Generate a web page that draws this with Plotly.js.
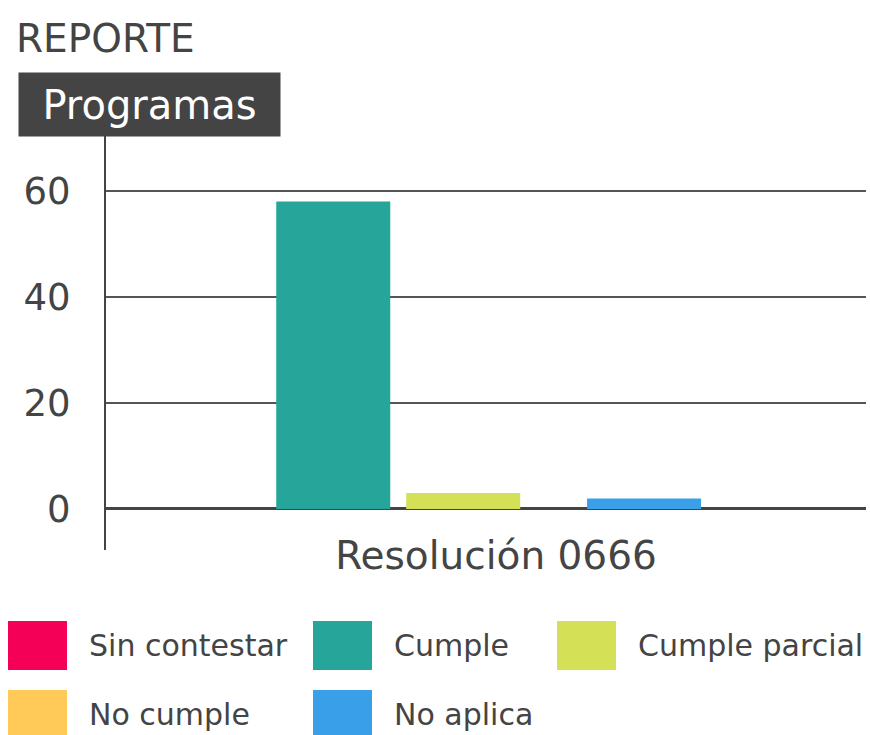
<!DOCTYPE html>
<html>
<head>
<meta charset="utf-8">
<script src="https://cdn.plot.ly/plotly-3.0.1.min.js"></script>
<style>html,body{margin:0;padding:0;background:#fff;}#chart{width:870px;height:735px;}</style>
</head>
<body>
<div id="chart"></div>
<script>
// ---- data ----
var categories = ["Resolución 0666"];
var seriesNames = ["Sin contestar", "Cumple", "Cumple parcial", "No cumple", "No aplica"];
var sinContestar = [0];
var cumple = [58];
var cumpleParcial = [3];
var noCumple = [0];
var noAplica = [2];
var yTickValues = [0, 20, 40, 60];
var titleText = "REPORTE";
var yTitleText = "Programas";

// ---- styles ----
var seriesValues = [sinContestar, cumple, cumpleParcial, noCumple, noAplica];
var colors = ["#F50057", "#26A69A", "#D4E157", "#FFCA58", "#389FE8"];
var offsets = [-0.447, -0.276, -0.105, 0.016, 0.133];
var barWidth = 0.15;
var FONT = "DejaVu Sans, sans-serif";
var TXT = "#444444";

// plot area in px
var L = 106, R = 866, T = 135, B = 550, W = 870, H = 735;
function px2x(x){ return (x - L) / (R - L); }
function px2y(y){ return (B - y) / (B - T); }

var traces = seriesNames.map(function(name, i){
  return {
    type: "bar",
    name: name,
    x: categories,
    y: seriesValues[i],
    offset: offsets[i],
    width: barWidth,
    marker: {color: colors[i], line: {width: 0}},
    showlegend: false,
    hoverinfo: "y+name"
  };
});

var shapes = [];
var annotations = [];

// y-axis title box
annotations.push({
  xref: "paper", yref: "paper",
  x: px2x(18), y: px2y(72),
  xanchor: "left", yanchor: "top",
  width: 261, height: 63,
  bgcolor: "#444444",
  borderpad: 0,
  text: yTitleText,
  showarrow: false,
  align: "center",
  font: {family: FONT, size: 40, color: "#ffffff"}
});

// custom legend
var legCols = [8, 313, 557];
var legRows = [621, 690];
seriesNames.forEach(function(name, i){
  var col = legCols[i % 3], row = legRows[Math.floor(i / 3)];
  shapes.push({
    type: "rect", xref: "paper", yref: "paper",
    x0: px2x(col), x1: px2x(col + 59),
    y0: px2y(row), y1: px2y(row + 49),
    fillcolor: colors[i], line: {width: 0}
  });
  annotations.push({
    xref: "paper", yref: "paper",
    x: px2x(col + 79), y: px2y(row + 24),
    xanchor: "left", yanchor: "middle",
    text: name, showarrow: false,
    font: {family: FONT, size: 30, color: TXT}
  });
});

var layout = {
  width: W, height: H,
  margin: {l: L, r: W - R, t: T, b: H - B, pad: 0},
  paper_bgcolor: "#ffffff",
  plot_bgcolor: "#ffffff",
  barmode: "overlay",
  title: {
    text: titleText,
    xref: "container", yref: "container",
    x: 16 / W, y: 1 - 38 / H,
    xanchor: "left", yanchor: "middle",
    font: {family: FONT, size: 39, color: TXT}
  },
  xaxis: {
    type: "category",
    range: [-0.5, 0.5],
    showgrid: false,
    showline: false,
    zeroline: false,
    ticks: "",
    ticklabelstandoff: -21,
    ticklabelshift: 10,
    tickfont: {family: FONT, size: 39, color: TXT},
    fixedrange: true
  },
  yaxis: {
    range: [-7.74, 70.57],
    tickvals: yTickValues,
    ticktext: yTickValues.map(String),
    showgrid: true,
    gridcolor: "#555555",
    gridwidth: 1.3,
    zeroline: true,
    zerolinecolor: "#444444",
    zerolinewidth: 3,
    showline: true,
    linecolor: "#444444",
    linewidth: 2,
    ticks: "",
    ticklabelstandoff: 26,
    tickfont: {family: FONT, size: 37, color: TXT},
    fixedrange: true
  },
  shapes: shapes,
  annotations: annotations,
  showlegend: false
};

Plotly.newPlot("chart", traces, layout, {displayModeBar: false, staticPlot: true});
</script>
</body>
</html>
